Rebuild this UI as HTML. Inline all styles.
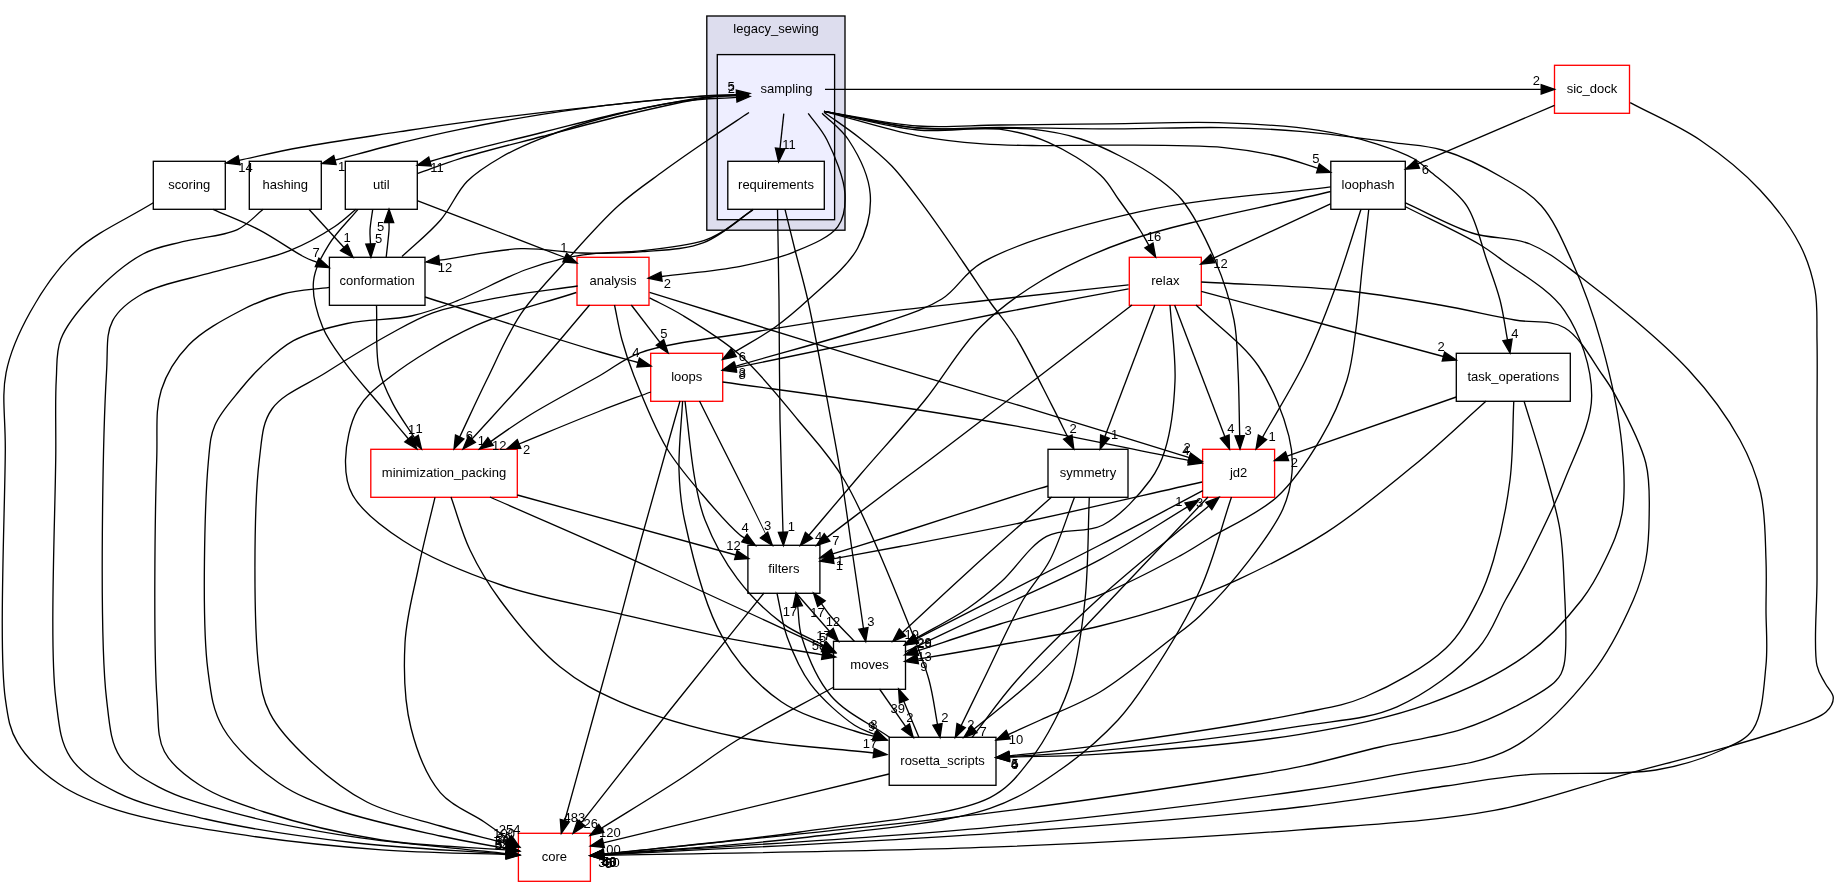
<!DOCTYPE html>
<html><head><meta charset="utf-8"><style>
html,body{margin:0;padding:0;background:#fff;width:1840px;height:887px;overflow:hidden}
svg{display:block;will-change:transform}
.t{font-family:"Liberation Sans",sans-serif;font-size:13px;text-anchor:middle;fill:#000}
.l{font-family:"Liberation Sans",sans-serif;font-size:13px;text-anchor:middle;fill:#000}
.e{fill:none;stroke:#000;stroke-width:1.33}
.a{fill:#000;stroke:#000;stroke-width:1.33}
</style></head><body>
<svg width="1840" height="887" viewBox="0 0 1840 887">
<rect x="706.8" y="16" width="138.2" height="214.2" fill="#ddddee" stroke="#000" stroke-width="1.33"/>
<text x="776" y="32.7" class="t">legacy_sewing</text>
<rect x="717.3" y="54.6" width="117.3" height="165.1" fill="#eeeeff" stroke="#000" stroke-width="1.33"/>
<text x="786.5" y="92.8" class="t">sampling</text>
<rect x="153.3" y="161.3" width="72.0" height="48" fill="#fff" stroke="#000" stroke-width="1.33"/>
<text x="189.3" y="189.2" class="t">scoring</text>
<rect x="249.3" y="161.3" width="72.0" height="48" fill="#fff" stroke="#000" stroke-width="1.33"/>
<text x="285.3" y="189.2" class="t">hashing</text>
<rect x="345.3" y="161.3" width="72.0" height="48" fill="#fff" stroke="#000" stroke-width="1.33"/>
<text x="381.3" y="189.2" class="t">util</text>
<rect x="727.8" y="161.3" width="96.5" height="48" fill="#fff" stroke="#000" stroke-width="1.33"/>
<text x="776.0" y="189.2" class="t">requirements</text>
<rect x="1330.8" y="161.3" width="74.5" height="48" fill="#fff" stroke="#000" stroke-width="1.33"/>
<text x="1368.0" y="189.2" class="t">loophash</text>
<rect x="329.4" y="257.3" width="95.6" height="48" fill="#fff" stroke="#000" stroke-width="1.33"/>
<text x="377.2" y="285.2" class="t">conformation</text>
<rect x="577.0" y="257.3" width="72.0" height="48" fill="#fff" stroke="#f00" stroke-width="1.33"/>
<text x="613.0" y="285.2" class="t">analysis</text>
<rect x="1129.3" y="257.3" width="72.0" height="48" fill="#fff" stroke="#f00" stroke-width="1.33"/>
<text x="1165.3" y="285.2" class="t">relax</text>
<rect x="650.7" y="353.3" width="72.0" height="48" fill="#fff" stroke="#f00" stroke-width="1.33"/>
<text x="686.7" y="381.2" class="t">loops</text>
<rect x="1456.3" y="353.3" width="114.0" height="48" fill="#fff" stroke="#000" stroke-width="1.33"/>
<text x="1513.3" y="381.2" class="t">task_operations</text>
<rect x="370.8" y="449.3" width="146.5" height="48" fill="#fff" stroke="#f00" stroke-width="1.33"/>
<text x="444.0" y="477.2" class="t">minimization_packing</text>
<rect x="1048.0" y="449.3" width="80.0" height="48" fill="#fff" stroke="#000" stroke-width="1.33"/>
<text x="1088.0" y="477.2" class="t">symmetry</text>
<rect x="1202.6" y="449.3" width="72.0" height="48" fill="#fff" stroke="#f00" stroke-width="1.33"/>
<text x="1238.6" y="477.2" class="t">jd2</text>
<rect x="747.9" y="545.3" width="72.0" height="48" fill="#fff" stroke="#000" stroke-width="1.33"/>
<text x="783.9" y="573.2" class="t">filters</text>
<rect x="833.5" y="641.3" width="72.0" height="48" fill="#fff" stroke="#000" stroke-width="1.33"/>
<text x="869.5" y="669.2" class="t">moves</text>
<rect x="889.2" y="737.3" width="106.8" height="48" fill="#fff" stroke="#000" stroke-width="1.33"/>
<text x="942.6" y="765.2" class="t">rosetta_scripts</text>
<rect x="518.4" y="833.3" width="72.0" height="48" fill="#fff" stroke="#f00" stroke-width="1.33"/>
<text x="554.4" y="861.2" class="t">core</text>
<rect x="1554.5" y="65.3" width="75.0" height="48" fill="#fff" stroke="#f00" stroke-width="1.33"/>
<text x="1592.0" y="93.2" class="t">sic_dock</text>
<path class="e" d="M749.0,94.5 C734.2,94.9 723.3,94.6 704.6,95.8 C672.5,97.9 616.0,104.1 574.0,108.8 C534.7,113.2 491.9,118.5 460.0,122.8 C436.8,125.9 422.5,128.2 400.0,131.7 C370.9,136.2 329.2,142.1 300.0,147.5 C277.1,151.7 259.4,156.0 239.0,160.3"/>
<polygon class="a" points="226.0,163.0 238.1,155.7 240.0,164.8"/>
<path class="e" d="M749.0,95.0 C734.2,95.4 723.3,95.0 704.6,96.2 C672.5,98.3 616.0,103.8 574.0,109.6 C534.6,115.0 491.9,122.9 460.0,129.3 C436.7,134.0 420.4,138.0 400.0,143.0 C378.7,148.2 356.6,154.4 334.9,160.1"/>
<polygon class="a" points="322.0,163.5 333.7,155.6 336.1,164.6"/>
<path class="e" d="M749.0,95.5 C734.2,96.1 721.6,95.4 704.6,97.3 C681.4,99.9 650.1,106.6 623.0,112.5 C595.9,118.4 569.1,125.8 542.0,132.5 C514.7,139.3 480.6,147.5 460.0,153.0 C447.5,156.3 440.0,158.7 430.0,161.5"/>
<polygon class="a" points="417.2,165.2 428.7,157.1 431.3,166.0"/>
<path class="e" d="M417.2,173.7 C431.5,168.7 443.3,163.8 460.0,158.6 C482.8,151.5 514.7,143.7 542.0,136.5 C569.1,129.3 595.9,121.9 623.0,115.5 C650.1,109.1 683.6,101.3 704.6,98.0 C717.7,96.0 726.0,95.9 736.7,94.8"/>
<polygon class="a" points="750.0,93.5 737.2,99.5 736.3,90.2"/>
<path class="e" d="M402.0,256.5 C414.9,244.3 429.5,233.0 440.6,220.0 C451.0,207.9 456.5,192.2 467.0,181.5 C477.0,171.4 489.2,164.1 501.5,157.0 C514.0,149.7 526.3,144.3 541.5,138.3 C560.4,130.8 583.9,123.1 606.7,117.0 C631.2,110.5 660.6,104.2 684.0,101.0 C703.1,98.4 719.1,98.6 736.7,97.4"/>
<polygon class="a" points="750.0,96.5 737.0,102.1 736.4,92.7"/>
<path class="e" d="M783.8,113.6 L780.0,148.5"/>
<polygon class="a" points="778.6,161.8 775.4,148.0 784.7,149.0"/>
<path class="e" d="M825.0,89.3 L1541.2,89.3"/>
<polygon class="a" points="1554.5,89.3 1541.2,94.0 1541.2,84.6"/>
<path class="e" d="M153.3,202.8 C127.5,218.8 97.0,231.7 76.0,250.9 C56.8,268.5 42.2,290.6 30.4,311.7 C19.4,331.3 10.4,350.6 6.1,372.6 C1.4,396.5 5.5,416.9 5.3,450.0 C5.0,509.4 -1.4,649.9 5.3,698.7 C8.2,719.6 9.7,729.2 17.6,742.7 C26.5,757.9 42.6,772.7 58.7,783.8 C75.6,795.5 94.0,802.7 117.4,810.2 C149.4,820.4 193.3,827.3 234.8,833.7 C280.9,840.8 334.6,846.4 381.6,849.9 C424.8,853.1 464.7,853.0 506.3,854.5"/>
<polygon class="a" points="519.6,855.0 506.1,859.2 506.5,849.8"/>
<path class="e" d="M263.2,209.3 C254.6,216.1 248.3,224.4 237.4,229.6 C223.1,236.4 199.3,237.3 182.6,241.7 C168.2,245.5 156.4,246.8 143.0,254.0 C126.0,263.2 105.5,281.3 91.3,296.5 C78.8,309.9 66.6,324.3 60.9,339.0 C55.9,351.8 57.2,363.5 56.3,378.7 C55.1,399.0 55.9,419.0 55.8,450.0 C55.6,507.8 49.2,644.7 55.8,698.7 C59.1,725.3 60.0,741.7 70.4,757.4 C80.7,772.9 98.3,783.0 117.4,792.6 C141.3,804.7 172.1,811.4 205.5,819.0 C247.9,828.7 302.6,836.7 352.2,842.5 C402.8,848.4 454.9,850.2 506.3,854.0"/>
<polygon class="a" points="519.6,855.0 506.0,858.7 506.7,849.4"/>
<path class="e" d="M356.0,209.3 C348.9,215.0 343.5,220.7 334.8,226.5 C322.8,234.5 306.7,243.8 289.1,250.9 C267.4,259.6 237.8,265.0 213.0,272.2 C189.1,279.2 160.7,283.5 143.0,293.5 C129.7,301.0 118.8,308.9 112.6,320.9 C105.6,334.5 108.0,347.9 106.5,372.6 C102.9,434.5 99.0,634.2 106.5,698.7 C109.7,726.4 110.6,742.4 120.3,757.4 C129.0,770.8 142.8,778.3 158.5,786.8 C178.9,797.8 206.3,805.5 234.8,813.2 C269.5,822.6 310.3,830.2 352.2,836.7 C399.9,844.1 455.0,847.9 506.3,853.6"/>
<polygon class="a" points="519.6,855.0 505.8,858.2 506.9,848.9"/>
<path class="e" d="M329.4,287.4 C313.9,289.6 297.8,290.0 282.8,294.0 C268.0,297.9 254.5,303.4 240.0,311.0 C223.2,319.8 202.0,331.1 188.7,345.0 C176.4,357.8 166.8,372.6 161.3,390.0 C154.9,410.1 157.7,429.7 156.7,460.0 C154.9,515.9 153.4,647.9 157.0,698.7 C158.7,722.7 156.9,736.9 164.4,751.5 C171.6,765.4 185.0,775.5 199.6,785.0 C217.1,796.4 239.1,803.8 264.2,812.0 C297.2,822.7 341.6,833.7 381.6,840.0 C422.3,846.4 464.7,846.6 506.3,849.9"/>
<polygon class="a" points="519.6,851.0 505.9,854.6 506.7,845.3"/>
<path class="e" d="M753.0,209.3 C742.9,216.7 731.9,226.0 722.7,231.5 C715.8,235.6 712.1,238.0 703.7,240.6 C689.4,245.1 662.2,248.5 642.8,250.7 C625.2,252.7 606.7,252.1 592.0,253.8 C580.6,255.1 572.2,256.3 561.7,258.8 C549.9,261.5 539.0,264.7 524.9,270.0 C504.9,277.5 475.0,293.9 454.2,302.0 C438.3,308.2 427.2,312.5 411.3,316.0 C392.2,320.2 367.2,319.1 347.0,323.5 C328.1,327.6 308.5,332.7 293.5,340.7 C280.7,347.6 270.7,357.6 261.4,366.4 C253.2,374.1 247.2,381.1 240.0,390.0 C231.7,400.3 220.2,412.7 215.0,425.0 C210.3,436.2 210.1,443.3 208.5,460.0 C204.7,500.4 201.7,621.4 207.8,669.4 C211.1,695.2 212.7,710.1 223.1,728.0 C234.9,748.4 258.7,769.1 278.8,783.0 C297.1,795.6 314.8,802.0 337.5,810.0 C366.6,820.3 409.7,829.2 440.3,836.0 C464.7,841.4 484.4,844.3 506.5,848.5"/>
<polygon class="a" points="519.6,851.0 505.6,853.1 507.4,843.9"/>
<path class="e" d="M577.7,286.0 C550.8,289.9 522.3,293.0 497.0,297.8 C474.3,302.1 451.7,306.0 432.8,312.8 C416.7,318.6 405.5,325.5 390.0,334.0 C370.5,344.7 346.0,359.8 325.7,372.8 C306.8,384.8 283.0,393.4 272.0,409.0 C262.1,423.1 262.1,437.0 259.3,460.0 C253.6,505.9 253.5,625.7 258.9,669.4 C261.4,689.7 262.8,699.4 270.0,713.4 C278.2,729.5 293.1,744.9 308.2,759.0 C324.9,774.6 345.3,790.9 366.9,802.0 C389.2,813.4 416.3,818.9 440.3,826.0 C462.9,832.7 484.6,837.7 506.7,843.6"/>
<polygon class="a" points="519.6,847.0 505.5,848.1 507.9,839.1"/>
<path class="e" d="M435.0,497.3 C429.3,521.5 423.0,545.7 418.0,570.0 C413.0,594.2 406.3,617.7 405.0,643.0 C403.6,670.2 404.4,702.1 411.0,728.0 C417.0,751.6 426.7,776.5 440.3,792.6 C452.1,806.5 471.8,813.4 484.3,822.0 C493.7,828.5 500.6,833.5 508.7,839.3"/>
<polygon class="a" points="519.6,847.0 506.0,843.1 511.4,835.5"/>
<path class="e" d="M358.0,209.3 C348.2,221.1 336.2,232.3 328.7,244.8 C321.7,256.4 314.8,268.2 313.5,281.3 C312.1,295.5 317.0,313.1 322.6,327.0 C328.0,340.4 336.8,351.3 345.7,363.6 C355.6,377.3 369.1,391.9 380.0,405.0 C389.9,416.8 398.9,427.5 408.3,438.8"/>
<polygon class="a" points="416.9,449.0 404.8,441.8 411.9,435.8"/>
<path class="e" d="M376.5,305.6 C377.3,326.5 375.2,350.7 378.9,368.4 C381.8,382.2 387.2,392.5 393.0,403.9 C399.0,415.6 407.3,426.5 414.4,437.7"/>
<polygon class="a" points="421.5,449.0 410.4,440.2 418.3,435.2"/>
<path class="e" d="M749.0,112.5 C734.8,122.0 720.7,131.2 706.5,141.0 C691.9,151.0 677.1,161.1 662.6,171.8 C647.8,182.6 633.1,192.4 618.6,205.5 C602.2,220.3 585.8,239.0 569.8,256.8 C553.3,275.0 535.0,293.1 521.1,313.6 C507.3,334.1 497.3,358.6 486.7,380.0 C477.0,399.6 468.7,418.0 459.7,437.0"/>
<polygon class="a" points="454.0,449.0 455.5,435.0 463.9,439.0"/>
<path class="e" d="M589.6,305.0 C569.7,328.3 549.9,352.3 530.0,375.0 C510.7,397.0 491.3,417.7 471.9,439.1"/>
<polygon class="a" points="463.0,449.0 468.5,436.0 475.4,442.3"/>
<path class="e" d="M1128.6,284.8 C1085.7,289.5 1042.1,294.3 1000.0,299.0 C959.3,303.6 919.9,307.3 880.0,312.6 C839.9,317.9 800.0,324.3 760.0,331.0 C720.0,337.7 668.7,342.4 640.0,352.8 C622.4,359.2 615.2,366.9 600.0,375.5 C579.9,386.9 549.8,402.8 530.0,415.0 C514.8,424.4 503.7,432.7 490.6,441.6"/>
<polygon class="a" points="479.5,449.0 487.9,437.7 493.2,445.4"/>
<path class="e" d="M650.8,392.0 C633.9,398.3 618.8,403.6 600.0,411.0 C576.1,420.3 546.0,433.0 519.0,444.0"/>
<polygon class="a" points="506.7,449.0 517.3,439.6 520.8,448.3"/>
<path class="e" d="M213.0,209.3 C228.2,216.1 243.7,221.8 258.7,229.6 C274.2,237.6 293.6,251.6 304.3,257.0 C309.8,259.8 312.8,260.6 317.1,262.4"/>
<polygon class="a" points="329.4,267.6 315.3,266.7 318.9,258.1"/>
<path class="e" d="M308.9,209.3 L344.0,247.5"/>
<polygon class="a" points="353.0,257.3 340.5,250.6 347.4,244.3"/>
<path class="e" d="M372.7,209.3 C371.8,216.3 370.3,223.9 370.0,230.2 C369.8,235.3 370.3,239.4 370.5,244.0"/>
<polygon class="a" points="370.9,257.3 365.8,244.1 375.1,243.8"/>
<path class="e" d="M386.2,257.3 C387.1,248.2 388.7,236.2 389.0,230.0 C389.2,226.8 389.0,225.1 389.0,222.6"/>
<polygon class="a" points="389.0,209.3 393.7,222.6 384.3,222.6"/>
<path class="e" d="M753.0,209.9 C736.6,220.8 721.8,235.6 703.7,242.6 C685.2,249.7 663.1,250.0 642.8,251.7 C622.6,253.4 602.3,253.5 582.0,253.0 C561.7,252.5 542.8,248.0 521.0,248.7 C495.7,249.6 466.5,256.3 439.2,260.2"/>
<polygon class="a" points="426.0,262.0 438.6,255.5 439.8,264.8"/>
<path class="e" d="M417.2,200.7 C465.6,219.3 551.1,251.9 562.3,256.5 C563.8,257.1 564.0,257.2 564.8,257.6"/>
<polygon class="a" points="577.0,263.0 562.9,261.9 566.7,253.3"/>
<path class="e" d="M425.0,297.0 C483.3,315.3 562.8,341.1 600.0,352.0 C617.3,357.1 625.4,359.0 638.1,362.5"/>
<polygon class="a" points="651.0,366.0 636.9,367.0 639.4,358.0"/>
<path class="e" d="M631.3,305.0 L660.0,342.4"/>
<polygon class="a" points="668.1,353.0 656.3,345.3 663.7,339.6"/>
<path class="e" d="M808.2,113.3 C814.5,122.2 821.5,129.1 827.0,140.0 C834.3,154.4 844.2,178.2 845.0,194.0 C845.6,206.1 844.4,217.5 837.8,226.6 C829.7,237.7 810.2,245.3 794.5,251.8 C777.9,258.7 760.3,262.4 740.4,266.3 C716.7,271.0 687.8,273.1 661.5,276.5"/>
<polygon class="a" points="648.3,278.2 660.9,271.9 662.1,281.1"/>
<path class="e" d="M822.1,113.2 C830.9,122.1 841.1,128.6 848.6,140.0 C857.9,154.2 868.8,175.8 870.2,194.0 C871.6,211.8 866.7,231.5 857.6,248.2 C847.3,267.2 823.0,285.9 807.8,300.0 C796.1,310.8 787.1,318.5 775.3,327.0 C762.6,336.1 747.7,344.0 733.9,352.5"/>
<polygon class="a" points="722.5,359.5 731.4,348.5 736.3,356.5"/>
<path class="e" d="M824.0,112.2 C836.0,120.9 848.6,129.1 860.0,138.2 C871.1,147.0 881.5,155.3 891.6,165.8 C902.6,177.3 912.2,190.7 923.1,205.2 C935.9,222.2 951.1,244.7 963.0,262.0 C973.0,276.4 981.0,289.3 990.0,302.0 C998.4,313.9 1006.4,322.3 1015.0,336.0 C1026.7,354.6 1041.8,385.9 1051.5,404.6 C1058.1,417.4 1062.4,426.3 1067.8,437.1"/>
<polygon class="a" points="1073.8,449.0 1063.6,439.2 1072.0,435.0"/>
<path class="e" d="M1154.8,305.0 L1104.9,436.5"/>
<polygon class="a" points="1100.2,449.0 1100.6,434.9 1109.3,438.2"/>
<path class="e" d="M1128.6,288.8 C1085.7,296.9 1042.1,304.7 1000.0,313.0 C959.3,321.1 921.9,329.2 880.0,337.9 C834.1,347.4 783.7,357.8 735.6,367.7"/>
<polygon class="a" points="722.5,370.4 734.6,363.1 736.5,372.3"/>
<path class="e" d="M1330.7,186.8 C1267.1,195.1 1200.0,198.3 1140.0,211.7 C1084.4,224.2 1016.5,242.7 982.4,262.4 C962.8,273.7 957.8,289.0 941.8,299.0 C924.2,310.0 905.2,315.3 880.0,324.0 C842.1,337.2 783.5,352.2 735.3,366.3"/>
<polygon class="a" points="722.5,370.0 734.0,361.8 736.6,370.7"/>
<path class="e" d="M824.0,111.3 C855.3,119.5 889.2,130.3 917.8,135.8 C941.3,140.3 962.8,142.3 983.0,143.9 C1000.5,145.3 1013.8,145.2 1032.0,145.5 C1055.0,145.8 1081.5,144.9 1110.0,145.1 C1144.4,145.4 1192.6,144.7 1224.0,147.6 C1246.4,149.7 1264.4,153.0 1281.2,157.0 C1294.9,160.2 1305.7,164.6 1318.0,168.4"/>
<polygon class="a" points="1330.7,172.3 1316.6,172.8 1319.3,163.9"/>
<path class="e" d="M824.0,111.3 C855.3,117.5 887.5,127.2 917.8,130.0 C945.8,132.6 975.8,126.2 999.4,129.2 C1018.0,131.6 1032.3,135.3 1048.3,142.3 C1066.0,150.0 1088.1,163.6 1100.4,175.0 C1109.2,183.1 1112.7,191.2 1119.0,200.0 C1125.9,209.5 1134.6,221.5 1140.0,230.0 C1143.8,235.9 1146.0,240.3 1148.9,245.5"/>
<polygon class="a" points="1155.6,257.0 1144.9,247.8 1153.0,243.1"/>
<path class="e" d="M824.0,111.3 C855.3,116.9 884.9,124.9 917.8,128.0 C953.9,131.4 1002.0,126.1 1032.0,129.2 C1051.8,131.3 1065.7,134.2 1080.9,139.0 C1094.9,143.4 1107.1,149.4 1120.0,156.0 C1133.5,162.9 1149.0,171.8 1160.0,180.0 C1168.8,186.5 1174.7,190.7 1182.0,200.0 C1193.1,214.0 1206.2,239.6 1215.0,260.0 C1223.4,279.6 1230.2,300.7 1234.0,320.0 C1237.4,337.2 1237.1,352.2 1238.0,370.0 C1239.1,390.4 1239.1,413.8 1239.7,435.7"/>
<polygon class="a" points="1240.0,449.0 1235.0,435.8 1244.3,435.6"/>
<path class="e" d="M824.0,111.3 C855.3,116.2 887.5,123.8 917.8,126.0 C946.0,128.0 970.6,125.3 1000.0,125.0 C1034.0,124.6 1073.0,124.2 1110.0,123.8 C1147.7,123.4 1187.8,121.5 1224.0,122.8 C1257.1,124.0 1291.5,126.1 1319.0,130.4 C1340.6,133.8 1359.3,138.5 1376.3,143.8 C1390.5,148.3 1404.9,153.5 1414.4,159.0 C1421.0,162.8 1423.5,165.8 1429.6,171.0 C1439.4,179.4 1457.4,191.6 1466.8,205.8 C1476.8,220.9 1480.8,243.3 1486.7,260.0 C1491.7,274.3 1496.5,286.6 1500.0,300.0 C1503.4,313.2 1505.0,326.6 1507.5,339.9"/>
<polygon class="a" points="1510.0,353.0 1502.9,340.8 1512.1,339.0"/>
<path class="e" d="M824.0,111.3 C855.3,116.9 887.5,125.4 917.8,128.0 C946.0,130.4 970.6,127.4 1000.0,127.5 C1034.0,127.6 1073.0,128.9 1110.0,128.9 C1147.7,128.9 1189.8,126.9 1224.0,127.6 C1251.9,128.1 1273.3,129.1 1300.0,131.4 C1330.0,133.9 1369.2,139.2 1395.3,142.8 C1413.6,145.3 1425.7,145.1 1442.0,150.0 C1461.6,155.9 1486.4,168.1 1504.0,178.5 C1518.5,187.0 1530.6,193.7 1541.3,205.8 C1553.7,219.8 1562.1,239.5 1571.4,260.0 C1582.6,284.7 1593.5,314.8 1601.8,344.6 C1610.7,376.6 1619.0,415.5 1622.0,446.0 C1624.4,470.7 1625.6,493.6 1622.0,513.8 C1619.0,531.0 1612.1,545.5 1605.2,560.0 C1598.5,574.1 1592.2,586.3 1581.6,600.0 C1567.8,617.7 1549.0,638.8 1526.5,655.0 C1499.9,674.2 1464.9,690.7 1429.4,703.6 C1390.1,717.9 1348.1,726.2 1300.0,734.3 C1240.9,744.2 1153.7,750.6 1100.0,754.1 C1063.9,756.5 1039.5,756.1 1009.3,757.1"/>
<polygon class="a" points="996.0,757.5 1009.2,752.4 1009.5,761.7"/>
<path class="e" d="M1554.5,105.3 L1417.7,163.9"/>
<polygon class="a" points="1405.4,169.2 1415.8,159.7 1419.5,168.2"/>
<path class="e" d="M1630.2,102.6 C1653.5,115.1 1678.3,125.4 1700.0,140.0 C1721.5,154.5 1743.0,171.8 1760.0,190.0 C1775.9,207.0 1790.7,226.9 1800.0,245.0 C1807.8,260.1 1812.1,274.4 1815.0,290.0 C1817.9,306.0 1816.6,321.4 1817.0,340.0 C1817.5,363.5 1817.0,393.3 1817.0,420.0 C1817.0,446.7 1817.0,473.3 1817.0,500.0 C1817.0,526.7 1817.0,552.9 1817.0,580.0 C1817.0,608.1 1813.2,648.2 1817.0,665.7 C1818.8,673.9 1822.2,677.5 1825.0,683.0 C1827.6,688.2 1833.2,692.8 1833.3,697.7 C1833.4,702.5 1830.7,707.7 1826.0,712.0 C1817.7,719.6 1796.5,725.1 1780.0,731.0 C1761.6,737.5 1742.9,742.6 1720.7,748.9 C1692.4,757.0 1658.3,765.4 1623.6,774.8 C1583.5,785.7 1542.1,801.5 1494.2,810.4 C1436.4,821.2 1372.3,824.2 1300.0,829.8 C1208.8,836.9 1099.1,843.0 990.0,847.2 C868.3,851.9 732.4,852.6 603.6,855.3"/>
<polygon class="a" points="590.3,855.6 603.5,850.7 603.7,860.0"/>
<path class="e" d="M777.5,209.3 C778.0,239.5 778.6,267.7 779.0,300.0 C779.5,337.2 779.3,380.7 780.0,420.0 C780.7,458.0 782.0,494.8 783.0,532.2"/>
<polygon class="a" points="783.4,545.5 778.4,532.3 787.7,532.0"/>
<path class="e" d="M785.0,209.3 C788.3,222.9 791.4,235.7 795.0,250.0 C799.0,265.8 803.2,279.7 807.8,300.0 C814.8,331.3 824.8,386.8 831.0,420.0 C835.4,443.4 838.4,459.2 841.8,480.0 C845.4,502.4 848.5,525.9 852.0,550.0 C855.8,575.8 863.8,630.0 863.7,630.0 C863.7,630.0 863.5,628.9 863.4,628.4"/>
<polygon class="a" points="865.7,641.5 858.8,629.2 868.0,627.6"/>
<path class="e" d="M1330.5,203.8 L1212.7,258.6"/>
<polygon class="a" points="1200.6,264.2 1210.7,254.3 1214.7,262.8"/>
<path class="e" d="M1361.0,209.3 C1352.2,236.2 1344.0,264.2 1334.5,290.0 C1325.5,314.3 1317.2,336.4 1305.8,360.0 C1293.5,385.5 1276.9,411.6 1262.5,437.4"/>
<polygon class="a" points="1256.0,449.0 1258.4,435.1 1266.6,439.6"/>
<path class="e" d="M1368.8,209.3 C1366.5,229.5 1364.2,249.9 1362.0,270.0 C1359.9,289.9 1358.5,310.5 1355.9,329.5 C1353.5,347.1 1352.3,362.9 1347.0,380.0 C1341.1,399.2 1331.9,419.7 1320.7,438.6 C1308.8,458.8 1294.8,480.8 1276.7,497.2 C1257.9,514.2 1227.2,527.4 1209.3,538.2 C1197.5,545.3 1192.4,549.1 1180.0,555.8 C1160.1,566.6 1128.7,583.7 1100.0,594.8 C1069.0,606.8 1031.7,614.2 1000.0,624.0 C971.0,632.9 944.8,641.9 917.2,650.9"/>
<polygon class="a" points="904.5,655.0 915.7,646.4 918.6,655.3"/>
<path class="e" d="M1405.0,206.5 C1429.8,219.1 1461.9,233.9 1479.3,244.3 C1489.3,250.3 1492.7,253.0 1502.0,260.0 C1517.9,271.9 1549.7,289.0 1564.6,310.8 C1580.2,333.7 1591.7,367.2 1591.7,395.4 C1591.7,423.6 1575.3,452.5 1564.6,480.0 C1553.9,507.4 1538.5,538.1 1527.4,560.0 C1519.4,575.8 1513.3,586.1 1505.5,600.0 C1496.9,615.4 1491.9,633.0 1478.0,648.5 C1459.4,669.2 1426.7,693.8 1397.0,706.8 C1367.4,719.7 1338.3,720.0 1300.0,726.2 C1245.4,735.0 1153.7,745.7 1100.0,750.7 C1063.9,754.1 1039.5,754.7 1009.3,756.6"/>
<polygon class="a" points="996.0,757.5 1009.0,752.0 1009.6,761.3"/>
<path class="e" d="M1405.0,202.7 C1427.3,212.8 1450.1,226.1 1472.0,233.0 C1491.7,239.2 1512.0,236.8 1530.0,244.0 C1548.1,251.3 1560.7,262.0 1580.0,276.5 C1609.9,298.9 1660.4,339.5 1688.6,370.0 C1710.6,393.7 1727.6,417.5 1740.0,440.0 C1750.0,458.2 1756.3,474.0 1760.7,493.0 C1765.5,513.7 1765.2,539.3 1766.0,560.0 C1766.7,577.9 1766.0,592.9 1766.0,610.0 C1766.0,627.9 1767.9,646.0 1766.0,665.0 C1763.9,685.7 1762.8,714.9 1753.0,729.4 C1745.5,740.5 1733.8,744.4 1720.7,750.5 C1703.3,758.6 1681.6,765.7 1656.0,770.0 C1620.6,775.9 1564.5,771.5 1526.5,774.8 C1496.3,777.4 1476.5,781.6 1445.6,786.0 C1404.1,791.9 1357.7,800.4 1300.0,807.0 C1216.1,816.6 1099.1,825.9 990.0,833.6 C868.4,842.2 732.4,847.8 603.6,854.9"/>
<polygon class="a" points="590.3,855.6 603.4,850.2 603.9,859.5"/>
<path class="e" d="M649.6,292.4 C674.0,299.9 693.7,306.0 722.7,315.0 C765.2,328.1 829.1,348.1 880.0,363.6 C928.0,378.2 971.1,390.9 1020.0,405.7 C1073.8,422.0 1132.8,440.3 1189.3,457.6"/>
<polygon class="a" points="1202.0,461.5 1187.9,462.1 1190.6,453.1"/>
<path class="e" d="M649.6,297.8 C660.4,303.5 669.9,307.6 682.0,315.0 C698.8,325.2 721.6,338.8 740.0,355.0 C760.5,373.1 780.1,398.4 798.0,420.0 C814.7,440.1 829.0,454.3 844.3,480.0 C866.8,517.8 896.2,593.2 911.0,630.0 C919.4,650.9 924.5,663.7 929.0,680.0 C933.1,695.1 934.7,709.6 937.5,724.4"/>
<polygon class="a" points="940.0,737.5 932.9,725.3 942.1,723.5"/>
<path class="e" d="M722.6,382.0 C775.1,389.3 829.1,396.3 880.0,404.0 C928.1,411.3 971.2,418.0 1020.0,426.8 C1073.7,436.5 1132.6,449.2 1188.9,460.4"/>
<polygon class="a" points="1202.0,463.0 1188.0,465.0 1189.8,455.8"/>
<path class="e" d="M614.5,305.0 C617.0,316.7 618.8,328.3 622.0,340.0 C625.3,352.0 628.6,362.1 634.0,376.0 C641.9,396.1 654.1,427.2 666.6,448.0 C677.4,466.0 690.2,480.2 702.7,495.0 C714.7,509.2 733.4,529.4 740.0,535.0 C742.1,536.8 743.0,537.0 744.5,538.0"/>
<polygon class="a" points="755.5,545.5 741.8,541.9 747.1,534.2"/>
<path class="e" d="M576.3,292.5 C542.7,303.6 507.1,311.3 475.6,325.7 C445.1,339.7 411.0,360.6 390.0,377.0 C375.8,388.1 365.2,396.0 357.8,409.2 C349.9,423.3 345.8,444.6 345.5,460.0 C345.3,472.8 346.2,483.9 352.8,495.4 C361.8,511.1 382.2,527.1 403.2,540.8 C430.0,558.2 468.6,573.9 504.0,586.0 C540.8,598.5 581.2,604.8 620.0,613.8 C659.0,622.9 701.2,633.1 737.3,640.2 C767.8,646.2 794.0,649.9 822.4,654.8"/>
<polygon class="a" points="835.5,657.0 821.6,659.4 823.1,650.1"/>
<path class="e" d="M1330.7,191.5 C1263.8,207.7 1182.5,221.8 1130.0,240.0 C1094.1,252.4 1068.5,264.5 1042.5,280.0 C1019.1,294.0 999.0,308.5 980.0,327.5 C959.5,348.0 944.5,375.9 925.0,400.0 C904.6,425.1 880.3,451.3 860.0,475.0 C841.9,496.1 825.9,515.2 808.9,535.3"/>
<polygon class="a" points="800.3,545.5 805.4,532.3 812.5,538.3"/>
<path class="e" d="M1132.0,305.0 C1108.2,323.3 1081.1,344.3 1060.6,360.0 C1045.2,371.8 1036.2,378.6 1020.0,391.0 C995.8,409.5 950.9,444.0 929.6,460.0 C918.0,468.7 913.8,471.6 902.6,480.0 C883.7,494.2 852.2,518.3 827.0,537.4"/>
<polygon class="a" points="816.4,545.5 824.2,533.7 829.8,541.2"/>
<path class="e" d="M1170.0,305.0 C1171.7,330.3 1176.0,356.3 1175.0,381.0 C1174.1,404.6 1170.5,432.1 1165.0,450.0 C1161.2,462.4 1157.9,469.7 1150.3,480.0 C1139.7,494.4 1121.0,515.6 1103.0,525.0 C1086.1,533.8 1063.2,527.5 1046.6,536.4 C1029.1,545.8 1015.8,568.7 1001.5,581.5 C989.7,592.0 980.4,599.7 967.6,608.5 C952.5,618.8 933.2,628.4 916.0,638.3"/>
<polygon class="a" points="904.5,645.0 913.7,634.3 918.4,642.4"/>
<path class="e" d="M1196.0,305.0 C1216.8,325.3 1242.7,343.3 1258.4,366.0 C1273.1,387.3 1283.9,416.2 1288.9,436.2 C1292.4,450.0 1293.0,460.7 1292.0,472.8 C1291.0,485.1 1288.4,496.6 1282.8,509.3 C1275.7,525.4 1262.2,543.3 1249.3,560.2 C1235.0,578.8 1215.0,601.4 1200.0,615.7 C1189.2,626.0 1182.0,630.5 1169.7,640.0 C1151.3,654.2 1123.0,678.2 1100.0,692.0 C1080.0,704.0 1057.4,712.2 1040.5,720.0 C1028.1,725.7 1018.9,729.8 1008.1,734.7"/>
<polygon class="a" points="996.0,740.2 1006.2,730.4 1010.1,738.9"/>
<path class="e" d="M1201.3,291.3 L1443.4,356.5"/>
<polygon class="a" points="1456.3,360.0 1442.2,361.0 1444.6,352.0"/>
<path class="e" d="M1174.6,305.0 L1224.8,436.5"/>
<polygon class="a" points="1229.5,449.0 1220.4,438.2 1229.1,434.9"/>
<path class="e" d="M1201.3,282.0 C1247.5,284.7 1297.6,285.6 1340.0,290.0 C1376.1,293.7 1409.1,299.6 1440.0,305.0 C1466.9,309.7 1492.5,316.0 1515.0,320.0 C1533.2,323.2 1550.5,319.5 1564.6,327.7 C1580.1,336.7 1593.4,362.3 1602.5,375.0 C1608.2,383.0 1610.6,386.4 1615.4,395.4 C1623.9,411.2 1640.5,441.6 1645.8,463.0 C1650.2,480.7 1649.3,497.3 1649.2,513.8 C1649.1,529.6 1648.6,545.3 1645.8,560.0 C1643.1,574.0 1639.8,585.0 1633.3,600.0 C1624.0,621.4 1609.9,651.0 1591.3,674.4 C1570.2,701.0 1542.2,732.2 1510.4,748.9 C1477.7,766.1 1433.4,767.6 1397.0,774.8 C1363.5,781.4 1341.6,785.1 1300.0,791.0 C1226.0,801.5 1099.1,817.1 990.0,827.3 C868.4,838.7 732.4,845.5 603.6,854.7"/>
<polygon class="a" points="590.3,855.6 603.3,850.0 603.9,859.3"/>
<path class="e" d="M1456.3,397.0 L1287.1,456.2"/>
<polygon class="a" points="1274.5,460.6 1285.5,451.8 1288.6,460.6"/>
<path class="e" d="M1486.2,401.0 C1462.3,422.3 1440.0,443.9 1414.4,465.0 C1387.0,487.7 1356.6,513.0 1326.5,532.4 C1297.9,550.8 1265.3,566.9 1238.6,579.3 C1217.4,589.2 1201.2,595.4 1180.0,602.7 C1155.6,611.1 1128.3,619.2 1100.0,626.0 C1068.7,633.5 1031.7,639.2 1000.0,645.0 C971.2,650.2 945.1,654.5 917.6,659.2"/>
<polygon class="a" points="904.5,661.5 916.8,654.6 918.4,663.8"/>
<path class="e" d="M1513.8,401.0 C1512.5,427.3 1513.3,453.7 1510.0,480.0 C1506.6,506.7 1499.9,538.1 1493.5,560.0 C1488.8,575.9 1485.1,586.4 1478.0,600.0 C1469.8,615.8 1461.0,633.9 1445.6,648.5 C1426.0,667.1 1390.9,686.1 1364.7,697.0 C1342.6,706.2 1327.7,707.6 1300.0,713.3 C1251.8,723.2 1153.7,737.9 1100.0,745.3 C1063.9,750.3 1039.5,752.4 1009.2,755.9"/>
<polygon class="a" points="996.0,757.5 1008.7,751.3 1009.8,760.6"/>
<path class="e" d="M1524.0,401.0 C1531.0,424.0 1538.8,447.7 1545.0,470.0 C1550.7,490.6 1556.9,510.8 1560.0,530.0 C1562.8,547.3 1563.2,561.1 1564.0,580.0 C1565.0,604.6 1568.1,648.1 1564.0,665.0 C1562.1,672.8 1560.6,675.7 1555.7,681.0 C1547.7,689.7 1529.8,698.9 1515.0,706.7 C1498.8,715.2 1481.8,723.1 1461.8,729.4 C1437.8,737.0 1407.1,740.8 1380.0,747.0 C1353.1,753.2 1324.8,761.5 1300.0,766.7 C1278.6,771.2 1266.9,772.8 1240.0,777.0 C1185.2,785.6 1082.5,801.3 990.0,812.9 C875.3,827.3 732.4,840.4 603.6,854.2"/>
<polygon class="a" points="590.3,855.6 603.1,849.5 604.1,858.8"/>
<path class="e" d="M517.3,495.0 L735.8,555.0"/>
<polygon class="a" points="748.7,558.5 734.6,559.5 737.1,550.5"/>
<path class="e" d="M489.9,497.0 C546.6,522.0 604.0,546.7 660.0,572.0 C715.1,596.9 768.9,622.3 823.4,647.4"/>
<polygon class="a" points="835.5,653.0 821.4,651.7 825.4,643.2"/>
<path class="e" d="M451.0,497.0 C457.3,514.7 461.9,533.0 470.0,550.0 C478.2,567.3 487.3,582.8 500.0,600.0 C515.8,621.4 538.5,649.3 560.0,666.8 C578.9,682.2 595.9,691.3 620.0,701.8 C651.9,715.7 696.3,728.5 737.3,737.0 C780.7,746.0 828.2,747.7 873.7,753.0"/>
<polygon class="a" points="886.9,754.6 873.1,757.7 874.2,748.4"/>
<path class="e" d="M699.5,401.0 C722.3,447.3 769.6,539.0 768.0,540.0 C767.7,540.2 765.4,536.7 764.1,535.1"/>
<polygon class="a" points="772.4,545.5 760.4,538.0 767.7,532.2"/>
<path class="e" d="M680.0,401.0 C667.0,447.3 651.9,500.0 641.0,540.0 C632.8,570.2 627.1,593.1 620.0,619.7 C612.8,646.4 606.1,670.5 598.0,700.0 C588.1,736.1 575.9,780.4 564.8,820.5"/>
<polygon class="a" points="561.3,833.4 560.3,819.3 569.3,821.8"/>
<path class="e" d="M685.0,401.0 C688.3,427.3 690.9,458.2 695.0,480.0 C697.9,495.7 699.4,505.8 705.0,520.0 C712.1,538.1 724.3,561.4 737.3,578.7 C749.9,595.4 765.9,611.1 781.3,622.6 C794.9,632.7 809.6,638.0 823.8,645.6"/>
<polygon class="a" points="835.5,652.0 821.6,649.7 826.0,641.5"/>
<path class="e" d="M682.6,401.0 C681.4,424.0 678.4,448.9 679.0,470.0 C679.5,488.0 680.2,500.1 684.5,520.0 C691.2,551.2 704.2,605.6 722.6,637.3 C738.1,664.0 758.6,686.1 781.3,701.8 C802.9,716.8 837.9,725.4 854.6,731.0 C863.1,733.9 867.6,734.6 874.1,736.4"/>
<polygon class="a" points="886.9,740.0 872.8,740.9 875.3,731.9"/>
<path class="e" d="M1048.0,486.0 C1038.7,488.8 1032.6,490.5 1020.0,494.4 C993.9,502.5 934.3,522.2 900.0,533.0 C874.4,541.1 855.2,546.9 832.7,553.9"/>
<polygon class="a" points="820.0,557.8 831.3,549.4 834.1,558.3"/>
<path class="e" d="M1051.7,497.0 C1024.5,521.3 995.8,546.5 970.0,570.0 C946.3,591.5 925.0,611.6 902.5,632.4"/>
<polygon class="a" points="892.7,641.5 899.3,629.0 905.7,635.9"/>
<path class="e" d="M1074.6,497.0 C1066.4,518.0 1059.5,541.8 1050.0,560.0 C1041.9,575.4 1032.3,584.0 1023.0,600.0 C1010.4,621.7 994.7,657.1 983.4,680.0 C974.9,697.3 968.6,710.3 961.2,725.5"/>
<polygon class="a" points="955.3,737.5 957.0,723.5 965.3,727.6"/>
<path class="e" d="M1089.3,497.0 C1087.9,531.3 1088.4,567.9 1085.0,600.0 C1082.0,628.5 1077.6,658.2 1071.4,680.0 C1066.8,695.9 1061.7,706.9 1055.0,720.0 C1048.0,733.6 1040.3,747.5 1030.0,760.0 C1018.9,773.5 1010.4,787.3 990.0,797.6 C951.7,816.9 864.0,822.6 800.0,832.0 C735.2,841.5 669.0,846.7 603.5,854.1"/>
<polygon class="a" points="590.3,855.6 603.0,849.5 604.1,858.7"/>
<path class="e" d="M1202.0,482.0 C1141.3,495.7 1074.4,511.5 1020.0,523.0 C975.9,532.3 934.2,540.0 900.0,546.5 C874.5,551.3 855.4,554.7 833.1,558.8"/>
<polygon class="a" points="820.0,561.2 832.3,554.2 834.0,563.4"/>
<path class="e" d="M1202.8,490.6 C1168.5,508.7 1139.3,524.6 1100.0,545.0 C1047.7,572.2 977.6,607.6 916.4,638.9"/>
<polygon class="a" points="904.5,645.0 914.2,634.8 918.5,643.1"/>
<path class="e" d="M1208.0,497.0 C1172.0,535.0 1131.8,577.8 1100.0,611.0 C1075.1,637.0 1055.2,659.5 1033.0,680.0 C1013.2,698.3 993.7,712.7 974.1,729.0"/>
<polygon class="a" points="963.8,737.5 971.1,725.4 977.0,732.6"/>
<path class="e" d="M1231.5,497.0 C1221.0,528.0 1213.6,559.9 1200.0,590.0 C1186.0,621.0 1163.6,656.4 1148.0,680.0 C1137.2,696.4 1130.5,706.6 1118.0,720.0 C1102.5,736.6 1081.1,755.4 1060.0,770.0 C1038.5,784.9 1020.2,798.1 990.0,808.4 C943.2,824.3 864.0,830.3 800.0,838.0 C735.2,845.8 669.1,849.0 603.6,854.5"/>
<polygon class="a" points="590.3,855.6 603.2,849.8 604.0,859.1"/>
<path class="e" d="M796.0,593.0 L829.7,631.5"/>
<polygon class="a" points="838.5,641.5 826.2,634.6 833.2,628.4"/>
<path class="e" d="M776.9,593.0 C780.3,607.8 781.9,622.6 787.2,637.3 C792.9,653.0 800.0,669.9 810.6,684.2 C822.0,699.5 842.2,717.0 854.6,725.3 C862.1,730.3 868.0,731.4 874.8,734.5"/>
<polygon class="a" points="886.9,740.0 872.8,738.7 876.7,730.2"/>
<path class="e" d="M764.0,593.0 C732.7,632.0 700.8,671.3 670.0,710.0 C639.9,747.9 610.8,785.3 581.2,822.9"/>
<polygon class="a" points="573.0,833.4 577.6,820.0 584.9,825.8"/>
<path class="e" d="M854.6,641.5 C846.8,633.3 837.1,623.9 831.1,616.8 C827.0,611.9 824.7,608.1 821.4,603.7"/>
<polygon class="a" points="813.5,593.0 825.2,600.9 817.7,606.5"/>
<path class="e" d="M905.0,652.0 C936.7,637.0 967.9,622.2 1000.0,607.0 C1032.9,591.4 1068.2,576.7 1100.0,559.6 C1130.5,543.2 1158.3,524.5 1187.4,506.9"/>
<polygon class="a" points="1198.8,500.0 1189.8,510.9 1185.0,502.9"/>
<path class="e" d="M879.5,689.0 L905.7,726.6"/>
<polygon class="a" points="913.3,737.5 901.8,729.2 909.5,723.9"/>
<path class="e" d="M834.0,687.0 C801.8,704.7 765.2,722.9 737.3,740.0 C715.0,753.7 699.7,766.3 678.7,780.0 C654.8,795.6 627.1,812.2 601.3,828.3"/>
<polygon class="a" points="590.0,835.4 598.8,824.4 603.8,832.3"/>
<path class="e" d="M889.8,737.5 C870.2,723.7 845.9,713.2 831.1,696.0 C817.0,679.5 807.0,654.2 801.8,637.3 C798.2,625.6 799.1,616.6 797.7,606.2"/>
<polygon class="a" points="796.0,593.0 802.4,605.6 793.1,606.8"/>
<path class="e" d="M919.0,737.5 L903.8,701.3"/>
<polygon class="a" points="898.6,689.0 908.1,699.5 899.5,703.1"/>
<path class="e" d="M972.0,737.5 C987.0,718.3 999.0,700.3 1017.0,680.0 C1039.8,654.3 1069.8,625.1 1100.0,597.5 C1133.2,567.1 1172.5,536.5 1208.8,506.0"/>
<polygon class="a" points="1219.0,497.4 1211.8,509.6 1205.8,502.4"/>
<path class="e" d="M889.0,774.0 L603.3,842.9"/>
<polygon class="a" points="590.3,846.0 602.2,838.3 604.4,847.4"/>
<text x="245.5" y="171.6" class="l">14</text>
<text x="341.7" y="171.1" class="l">1</text>
<text x="436.9" y="172.4" class="l">11</text>
<text x="731.1" y="90.9" class="l">5</text>
<text x="731.3" y="93.3" class="l">2</text>
<text x="788.9" y="148.7" class="l">11</text>
<text x="1536.4" y="84.8" class="l">2</text>
<text x="501.8" y="849.9" class="l">54</text>
<text x="502.2" y="849.2" class="l">51</text>
<text x="502.5" y="848.6" class="l">51</text>
<text x="502.2" y="845.1" class="l">56</text>
<text x="503.4" y="843.3" class="l">30</text>
<text x="504.2" y="838.2" class="l">100</text>
<text x="509.7" y="833.6" class="l">254</text>
<text x="411.7" y="433.7" class="l">1</text>
<text x="419.0" y="433.2" class="l">1</text>
<text x="469.4" y="440.2" class="l">6</text>
<text x="481.4" y="445.2" class="l">1</text>
<text x="499.3" y="449.9" class="l">12</text>
<text x="526.7" y="454.0" class="l">2</text>
<text x="316.0" y="256.8" class="l">7</text>
<text x="347.0" y="242.2" class="l">1</text>
<text x="378.7" y="242.9" class="l">5</text>
<text x="380.5" y="231.4" class="l">5</text>
<text x="445.1" y="271.9" class="l">12</text>
<text x="563.8" y="251.9" class="l">1</text>
<text x="635.8" y="357.1" class="l">4</text>
<text x="663.8" y="337.5" class="l">5</text>
<text x="667.4" y="288.3" class="l">2</text>
<text x="742.4" y="361.2" class="l">6</text>
<text x="1073.2" y="433.0" class="l">2</text>
<text x="1114.5" y="439.0" class="l">1</text>
<text x="742.0" y="379.0" class="l">8</text>
<text x="742.3" y="377.0" class="l">3</text>
<text x="1315.9" y="162.9" class="l">5</text>
<text x="1153.9" y="241.1" class="l">16</text>
<text x="1248.0" y="434.7" class="l">3</text>
<text x="1514.9" y="337.6" class="l">4</text>
<text x="1014.4" y="769.4" class="l">6</text>
<text x="1425.4" y="173.8" class="l">6</text>
<text x="608.6" y="867.7" class="l">5</text>
<text x="791.4" y="531.2" class="l">1</text>
<text x="870.9" y="626.2" class="l">3</text>
<text x="1220.6" y="268.2" class="l">12</text>
<text x="1272.2" y="441.3" class="l">1</text>
<text x="924.4" y="661.4" class="l">13</text>
<text x="1014.6" y="768.8" class="l">4</text>
<text x="608.9" y="867.0" class="l">40</text>
<text x="1187.1" y="452.1" class="l">2</text>
<text x="944.9" y="722.1" class="l">2</text>
<text x="1185.9" y="455.2" class="l">4</text>
<text x="745.2" y="532.3" class="l">4</text>
<text x="819.1" y="649.6" class="l">58</text>
<text x="818.5" y="541.1" class="l">4</text>
<text x="835.9" y="545.3" class="l">7</text>
<text x="924.4" y="647.2" class="l">29</text>
<text x="1016.0" y="744.4" class="l">10</text>
<text x="1441.0" y="351.1" class="l">2</text>
<text x="1230.9" y="433.1" class="l">4</text>
<text x="609.0" y="866.8" class="l">300</text>
<text x="1294.4" y="466.6" class="l">2</text>
<text x="923.8" y="670.7" class="l">9</text>
<text x="1015.0" y="767.8" class="l">5</text>
<text x="609.2" y="866.1" class="l">60</text>
<text x="733.5" y="549.6" class="l">12</text>
<text x="822.6" y="641.7" class="l">5</text>
<text x="869.9" y="748.1" class="l">17</text>
<text x="767.7" y="530.1" class="l">3</text>
<text x="574.3" y="822.2" class="l">483</text>
<text x="823.6" y="639.9" class="l">17</text>
<text x="871.7" y="731.0" class="l">9</text>
<text x="839.8" y="564.5" class="l">1</text>
<text x="911.7" y="639.4" class="l">19</text>
<text x="970.9" y="728.9" class="l">2</text>
<text x="609.3" y="866.0" class="l">50</text>
<text x="839.4" y="570.2" class="l">1</text>
<text x="924.5" y="648.3" class="l">26</text>
<text x="983.1" y="736.4" class="l">7</text>
<text x="609.1" y="866.5" class="l">45</text>
<text x="832.9" y="626.3" class="l">12</text>
<text x="873.9" y="728.8" class="l">8</text>
<text x="590.8" y="828.4" class="l">26</text>
<text x="817.5" y="616.6" class="l">17</text>
<text x="1178.9" y="506.1" class="l">1</text>
<text x="909.9" y="721.8" class="l">2</text>
<text x="609.9" y="837.0" class="l">120</text>
<text x="790.0" y="616.1" class="l">17</text>
<text x="897.8" y="713.0" class="l">39</text>
<text x="1199.7" y="506.6" class="l">3</text>
<text x="609.9" y="854.0" class="l">100</text>
</svg></body></html>
